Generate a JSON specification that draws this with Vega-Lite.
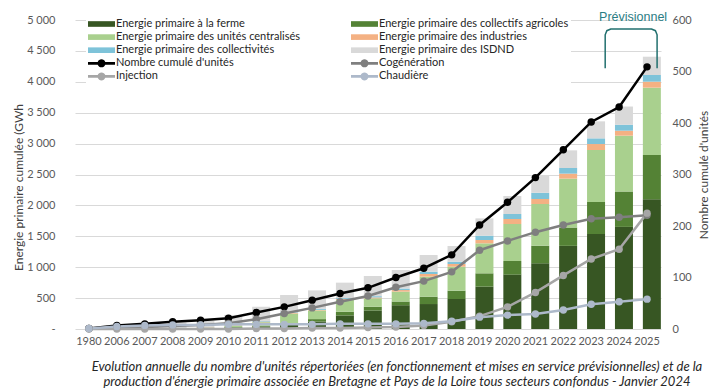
{
  "$schema": "https://vega.github.io/schema/vega-lite/v6.json",
  "width": 586,
  "height": 309,
  "autosize": {"type": "none"},
  "padding": {"left": 75, "top": 20, "right": 59, "bottom": 62},
  "background": "white",
  "title": {
    "text": ["Evolution annuelle du nombre d'unités répertoriées (en fonctionnement et mises en service prévisionnelles) et de la", "production d'énergie primaire associée en Bretagne et Pays de la Loire tous secteurs confondus - Janvier 2024"],
    "orient": "bottom", "anchor": "middle", "font": "Lato", "fontSize": 13, "fontStyle": "italic", "fontWeight": "normal",
    "color": "#262626", "lineHeight": 15, "offset": 15, "dx": 29
  },
  "config": {
    "view": {"stroke": null},
    "font": "Lato",
    "axis": {"labelFont": "Lato", "labelColor": "#595959", "labelFontSize": 11, "titleFont": "Lato", "titleFontWeight": "normal", "titleColor": "#404040", "titleFontSize": 12, "domain": false, "ticks": false, "gridColor": "#d9d9d9"}
  },
  "datasets": {
    "energie": [
      {"year": "1980", "ferme": 0, "collectifs": 0, "centralises": 0, "industries": 0, "collectivites": 0, "isdnd": 10},
      {"year": "2006", "ferme": 5, "collectifs": 0, "centralises": 0, "industries": 5, "collectivites": 5, "isdnd": 40},
      {"year": "2007", "ferme": 8, "collectifs": 0, "centralises": 0, "industries": 5, "collectivites": 5, "isdnd": 60},
      {"year": "2008", "ferme": 10, "collectifs": 2, "centralises": 0, "industries": 8, "collectivites": 5, "isdnd": 80},
      {"year": "2009", "ferme": 12, "collectifs": 3, "centralises": 5, "industries": 8, "collectivites": 5, "isdnd": 100},
      {"year": "2010", "ferme": 25, "collectifs": 5, "centralises": 20, "industries": 10, "collectivites": 8, "isdnd": 160},
      {"year": "2011", "ferme": 40, "collectifs": 10, "centralises": 60, "industries": 10, "collectivites": 10, "isdnd": 230},
      {"year": "2012", "ferme": 70, "collectifs": 20, "centralises": 160, "industries": 10, "collectivites": 10, "isdnd": 280},
      {"year": "2013", "ferme": 120, "collectifs": 40, "centralises": 140, "industries": 10, "collectivites": 15, "isdnd": 300},
      {"year": "2014", "ferme": 220, "collectifs": 60, "centralises": 190, "industries": 15, "collectivites": 15, "isdnd": 250},
      {"year": "2015", "ferme": 300, "collectifs": 60, "centralises": 136, "industries": 15, "collectivites": 20, "isdnd": 327},
      {"year": "2016", "ferme": 385, "collectifs": 60, "centralises": 160, "industries": 25, "collectivites": 25, "isdnd": 300},
      {"year": "2017", "ferme": 404, "collectifs": 119, "centralises": 324, "industries": 43, "collectivites": 38, "isdnd": 269},
      {"year": "2018", "ferme": 485, "collectifs": 135, "centralises": 388, "industries": 44, "collectivites": 37, "isdnd": 254},
      {"year": "2019", "ferme": 685, "collectifs": 216, "centralises": 485, "industries": 54, "collectivites": 70, "isdnd": 280},
      {"year": "2020", "ferme": 880, "collectifs": 220, "centralises": 599, "industries": 81, "collectivites": 81, "isdnd": 291},
      {"year": "2021", "ferme": 1063, "collectifs": 285, "centralises": 675, "industries": 81, "collectivites": 100, "isdnd": 280},
      {"year": "2022", "ferme": 1345, "collectifs": 297, "centralises": 791, "industries": 81, "collectivites": 91, "isdnd": 286},
      {"year": "2023", "ferme": 1537, "collectifs": 518, "centralises": 841, "industries": 97, "collectivites": 92, "isdnd": 275},
      {"year": "2024", "ferme": 1652, "collectifs": 573, "centralises": 903, "industries": 81, "collectivites": 96, "isdnd": 295},
      {"year": "2025", "ferme": 2098, "collectifs": 718, "centralises": 1089, "industries": 97, "collectivites": 108, "isdnd": 296}
    ],
    "unites": [
      {"year": "1980", "total": 1, "cogeneration": 1, "injection": 0, "chaudiere": 1},
      {"year": "2006", "total": 7, "cogeneration": 3, "injection": 0, "chaudiere": 5},
      {"year": "2007", "total": 10, "cogeneration": 4, "injection": 0, "chaudiere": 7},
      {"year": "2008", "total": 14, "cogeneration": 6, "injection": 0, "chaudiere": 8},
      {"year": "2009", "total": 17, "cogeneration": 8, "injection": 0, "chaudiere": 8},
      {"year": "2010", "total": 21, "cogeneration": 11, "injection": 0, "chaudiere": 9},
      {"year": "2011", "total": 32, "cogeneration": 19, "injection": 1, "chaudiere": 9},
      {"year": "2012", "total": 43, "cogeneration": 30, "injection": 1, "chaudiere": 9},
      {"year": "2013", "total": 56, "cogeneration": 41, "injection": 2, "chaudiere": 9},
      {"year": "2014", "total": 69, "cogeneration": 53, "injection": 2, "chaudiere": 10},
      {"year": "2015", "total": 80, "cogeneration": 64, "injection": 3, "chaudiere": 10},
      {"year": "2016", "total": 100, "cogeneration": 81, "injection": 4, "chaudiere": 10},
      {"year": "2017", "total": 118, "cogeneration": 93, "injection": 7, "chaudiere": 11},
      {"year": "2018", "total": 144, "cogeneration": 111, "injection": 14, "chaudiere": 15},
      {"year": "2019", "total": 202, "cogeneration": 153, "injection": 25, "chaudiere": 23},
      {"year": "2020", "total": 246, "cogeneration": 171, "injection": 43, "chaudiere": 27},
      {"year": "2021", "total": 294, "cogeneration": 188, "injection": 71, "chaudiere": 29},
      {"year": "2022", "total": 348, "cogeneration": 202, "injection": 104, "chaudiere": 37},
      {"year": "2023", "total": 402, "cogeneration": 214, "injection": 136, "chaudiere": 48},
      {"year": "2024", "total": 431, "cogeneration": 217, "injection": 155, "chaudiere": 53},
      {"year": "2025", "total": 509, "cogeneration": 221, "injection": 225, "chaudiere": 58}
    ]
  },
  "layer": [
    {
      "layer": [
        {
          "data": {"name": "energie"},
          "transform": [
            {"fold": ["ferme", "collectifs", "centralises", "industries", "collectivites", "isdnd"], "as": ["k", "value"]},
            {"calculate": "{'ferme': 'Energie primaire à la ferme', 'collectifs': 'Energie primaire des collectifs agricoles', 'centralises': 'Energie primaire des unités centralisés', 'industries': 'Energie primaire des industries', 'collectivites': 'Energie primaire des collectivités', 'isdnd': 'Energie primaire des ISDND'}[datum.k]", "as": "category"},
            {"calculate": "indexof(['ferme', 'collectifs', 'centralises', 'industries', 'collectivites', 'isdnd'], datum.k)", "as": "ord"}
          ],
          "mark": {"type": "bar", "width": {"band": 0.3}},
          "encoding": {
            "x": {"field": "year", "type": "nominal", "scale": {"paddingInner": 0, "paddingOuter": 0}, "axis": {"title": null, "labelAngle": 0, "labelPadding": 6, "grid": false}},
            "y": {"field": "value", "type": "quantitative", "stack": "zero", "scale": {"domain": [0, 5000], "nice": false},
              "axis": {"title": "Energie primaire cumulée (GWh", "values": [0, 500, 1000, 1500, 2000, 2500, 3000, 3500, 4000, 4500, 5000], "grid": true, "labelOverlap": false,
                "labelExpr": "datum.value == 0 ? '-' : replace(format(datum.value, ','), ',', ' ')", "labelPadding": 20, "titlePadding": 1, "titleY": 167}},
            "color": {"field": "category", "type": "nominal",
              "scale": {"domain": ["Energie primaire à la ferme", "Energie primaire des unités centralisés", "Energie primaire des collectivités", "Nombre cumulé d'unités", "Injection", "Energie primaire des collectifs agricoles", "Energie primaire des industries", "Energie primaire des ISDND", "Cogénération", "Chaudière"],
                "range": ["#375623", "#a9d08e", "#7ec3d9", "#000000", "#a6a6a6", "#548235", "#f4b183", "#d9d9d9", "#7f7f7f", "#adb9ca"]},
              "legend": {
                "title": null, "orient": "none", "legendX": 11, "legendY": -4, "columns": 2, "columnPadding": 50, "rowPadding": 2.1,
                "symbolSize": 144, "symbolOffset": 7.5, "labelOffset": 8.5, "labelFont": "Lato", "labelFontSize": 11, "labelColor": "#262626",
                "labelLimit": 0, "fillColor": "white", "padding": 2, "symbolStrokeWidth": 0,
                "encode": {"symbols": {"update": {
                  "shape": {"signal": "indexof([3, 4, 8, 9], indexof(domain('color'), datum.value)) >= 0 ? 'M-2.25,-0.23L-0.629,-0.23A0.67,0.67 0 0 1 0.629,-0.23L2.25,-0.23L2.25,0.23L0.629,0.23A0.67,0.67 0 0 1 -0.629,0.23L-2.25,0.23Z' : 'M-2.25,-0.47L2.25,-0.47L2.25,0.47L-2.25,0.47Z'"},
                  "fill": {"signal": "scale('color', datum.value)"},
                  "stroke": {"value": "transparent"},
                  "opacity": {"value": 1}
                }}}
              }},
            "order": {"field": "ord"}
          }
        },
        {
          "data": {"values": [{"year": "2024", "y": 5050, "label": "Prévisionnel"}]},
          "mark": {"type": "text", "font": "Liberation Sans", "fontSize": 12.5, "color": "#2b7d84", "baseline": "middle", "align": "center"},
          "encoding": {
            "x": {"field": "year", "type": "nominal", "bandPosition": 1},
            "y": {"field": "y", "type": "quantitative",
              "axis": {"title": "Energie primaire cumulée (GWh", "values": [0, 500, 1000, 1500, 2000, 2500, 3000, 3500, 4000, 4500, 5000], "grid": true, "labelOverlap": false,
                "labelExpr": "datum.value == 0 ? '-' : replace(format(datum.value, ','), ',', ' ')", "labelPadding": 20, "titlePadding": 1, "titleY": 167}},
            "text": {"field": "label"}
          }
        },
        {
          "data": {"values": [
            {"year": "2024", "off": 0, "y": 4220, "k": 0},
            {"year": "2024", "off": 0, "y": 4760, "k": 1},
            {"year": "2024", "off": 0.06, "y": 4827, "k": 2},
            {"year": "2024", "off": 0.2, "y": 4854, "k": 3},
            {"year": "2025", "off": 0.66, "y": 4854, "k": 4},
            {"year": "2025", "off": 0.8, "y": 4827, "k": 5},
            {"year": "2025", "off": 0.86, "y": 4760, "k": 6},
            {"year": "2025", "off": 0.86, "y": 4220, "k": 7}
          ]},
          "mark": {"type": "line", "color": "#22706f", "strokeWidth": 1.5},
          "encoding": {
            "x": {"field": "year", "type": "nominal"},
            "xOffset": {"field": "off", "type": "quantitative", "scale": {"domain": [0, 1]}},
            "y": {"field": "y", "type": "quantitative",
              "axis": {"title": "Energie primaire cumulée (GWh", "values": [0, 500, 1000, 1500, 2000, 2500, 3000, 3500, 4000, 4500, 5000], "grid": true, "labelOverlap": false,
                "labelExpr": "datum.value == 0 ? '-' : replace(format(datum.value, ','), ',', ' ')", "labelPadding": 20, "titlePadding": 1, "titleY": 167}},
            "order": {"field": "k"}
          }
        }
      ]
    },
    {
      "data": {"name": "unites"},
      "transform": [
        {"fold": ["total", "cogeneration", "injection", "chaudiere"], "as": ["k", "count"]},
        {"calculate": "{'total': \"Nombre cumulé d'unités\", 'cogeneration': 'Cogénération', 'injection': 'Injection', 'chaudiere': 'Chaudière'}[datum.k]", "as": "series"}
      ],
      "mark": {"type": "line", "strokeWidth": 2.5, "point": {"filled": true, "size": 55}},
      "encoding": {
        "x": {"field": "year", "type": "nominal"},
        "y": {"field": "count", "type": "quantitative", "scale": {"domain": [0, 600], "nice": false},
          "axis": {"orient": "right", "title": "Nombre cumulé d'unités", "values": [0, 100, 200, 300, 400, 500, 600], "grid": false, "labelPadding": 11, "titleAngle": 270, "titlePadding": 19}},
        "color": {"field": "series", "type": "nominal"}
      }
    }
  ],
  "resolve": {"scale": {"y": "independent"}}
}
